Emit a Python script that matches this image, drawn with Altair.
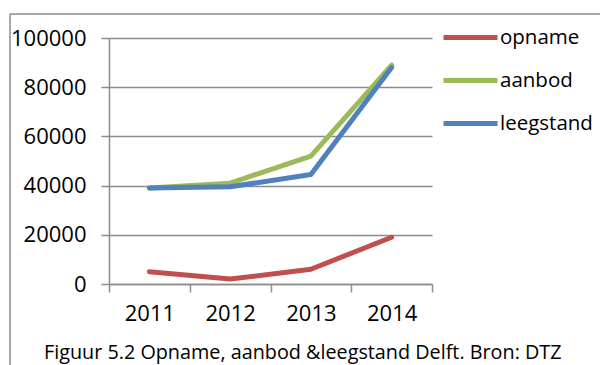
import altair as alt
import pandas as pd

# Office-space figures for Delft, per year
years = ["2011", "2012", "2013", "2014"]
series = ["opname", "aanbod", "leegstand"]
opname = [5000, 2000, 6000, 19000]
aanbod = [39000, 41000, 52000, 89000]
leegstand = [39000, 39500, 44500, 88000]
colors = ["#C0504D", "#9BBB59", "#4F81BD"]
y_ticks = [0, 20000, 40000, 60000, 80000, 100000]
caption = "Figuur 5.2 Opname, aanbod &leegstand Delft. Bron: DTZ"

rows = []
for name, vals in zip(series, [opname, aanbod, leegstand]):
    for yr, v in zip(years, vals):
        rows.append({"jaar": yr, "reeks": name, "waarde": v})
df = pd.DataFrame(rows)

FONT = "Open Sans"
GRID = "#8c8c8c"
W, H = 323, 246
PAD_L, PAD_T = 109, 38
FS = 22

x_enc = alt.X(
    "jaar:N",
    scale=alt.Scale(type="band", domain=years, paddingInner=0, paddingOuter=0),
    bandPosition=0.5,
    axis=alt.Axis(
        title=None, labelAngle=0, tickBand="extent", grid=False,
        domainColor=GRID, domainWidth=1.5, tickColor=GRID, tickWidth=1.5,
        tickSize=8, labelFontSize=FS, labelFont=FONT, labelColor="#000",
        labelPadding=11,
    ),
)
y_enc = alt.Y(
    "waarde:Q",
    scale=alt.Scale(domain=[0, 100000], nice=False),
    axis=alt.Axis(
        title=None, values=y_ticks, format="d", grid=True, gridColor=GRID,
        gridWidth=1.5, domainColor=GRID, domainWidth=1.5, tickColor=GRID,
        tickWidth=1.5, tickSize=8, labelFontSize=FS, labelFont=FONT,
        labelColor="#000", labelPadding=15,
    ),
)
color_enc = alt.Color(
    "reeks:N",
    scale=alt.Scale(domain=series, range=colors),
    legend=alt.Legend(
        title=None, orient="none", legendX=332, legendY=-30,
        symbolType="stroke", symbolSize=2916, symbolStrokeWidth=5,
        labelFontSize=20.5, labelFont=FONT, labelColor="#000",
        labelOffset=0, rowPadding=3,
    ),
)

# one layer per series so that later series are drawn on top
layers = []
for name in series:
    layers.append(
        alt.Chart(df)
        .transform_filter(alt.datum.reeks == name)
        .mark_line(strokeWidth=5, strokeCap="round", strokeJoin="round")
        .encode(x=x_enc, y=y_enc, color=color_enc)
    )

one = pd.DataFrame({"k": [0]})

# frame around the figure
frame_left = alt.Chart(one).mark_rule(color=GRID, strokeWidth=1.5).encode(
    x=alt.value(10 - PAD_L), y=alt.value(14 - PAD_T), y2=alt.value(400)
)
frame_top = alt.Chart(one).mark_rule(color=GRID, strokeWidth=1.5).encode(
    x=alt.value(10 - PAD_L), x2=alt.value(700), y=alt.value(14 - PAD_T)
)

# figure caption below the chart
caption_text = alt.Chart(one).mark_text(
    align="left", baseline="alphabetic", font=FONT, fontSize=19.8, color="#000"
).encode(x=alt.value(44 - PAD_L), y=alt.value(359 - PAD_T), text=alt.value(caption))

chart = (
    alt.layer(frame_left, frame_top, *layers, caption_text)
    .properties(
        width=W,
        height=H,
        autosize=alt.AutoSizeParams(type="none"),
        padding={"left": PAD_L, "top": PAD_T, "right": 600 - PAD_L - W, "bottom": 365 - PAD_T - H},
        background="white",
    )
    .configure_view(stroke=None)
)

chart.save("out.html", embed_options={"renderer": "svg", "actions": False})
